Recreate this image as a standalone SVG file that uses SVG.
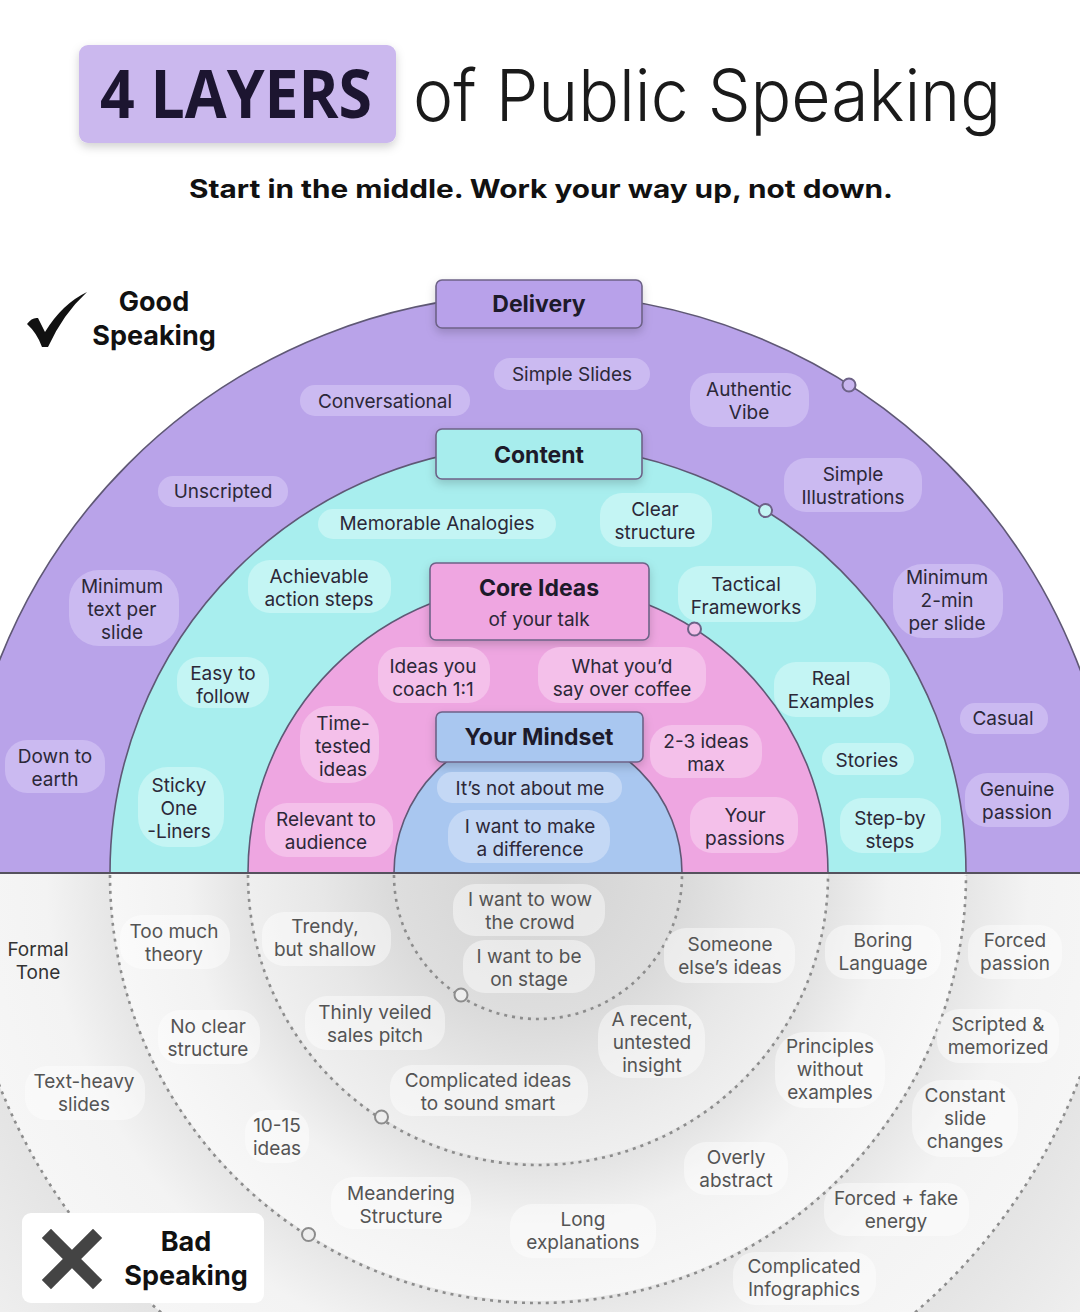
<svg xmlns="http://www.w3.org/2000/svg" width="1080" height="1312" viewBox="0 0 1080 1312">
<defs>
<style>
.t{font-family:Inter,"Noto Sans","Liberation Sans",sans-serif;font-size:19px;fill:#2c2838;text-anchor:middle}
.lo{fill:#545454}
.dk{fill:#333333}
.hd{font-weight:700;font-size:23px;fill:#1d1a2a}
.big{font-family:Inter,"Noto Sans","Liberation Sans",sans-serif;font-weight:700;font-size:27px;fill:#111;text-anchor:middle}
.pp{fill:#cbbaf1}
.pc{fill:#c4f5f4}
.pk{fill:#f4c0ea}
.pb{fill:#c4d8f5}
.pl{fill:#ffffff;fill-opacity:0.45}
.hbox{stroke:#6d6287;stroke-width:1.6}
.ring{stroke:#5f5875;stroke-width:1.6}
.dot{fill:none;stroke:#8c8c8c;stroke-width:2.6;stroke-dasharray:3 5}
.mk{stroke:#6d6287;stroke-width:2}
.mkl{fill:#ededed;stroke:#8c8c8c;stroke-width:2}
</style>
<filter id="sh" x="-20%" y="-20%" width="140%" height="160%">
<feDropShadow dx="0" dy="4" stdDeviation="5" flood-color="#000" flood-opacity="0.18"/>
</filter>
<radialGradient id="gPur" gradientUnits="userSpaceOnUse" cx="538" cy="873" r="579">
<stop offset="0.74" stop-color="#e6e6e6"/><stop offset="0.85" stop-color="#f3f3f3"/><stop offset="1" stop-color="#f6f6f6"/>
</radialGradient>
<radialGradient id="gCy" gradientUnits="userSpaceOnUse" cx="538" cy="873" r="428">
<stop offset="0.68" stop-color="#e3e3e3"/><stop offset="0.82" stop-color="#f2f2f2"/><stop offset="1" stop-color="#f7f7f7"/>
</radialGradient>
<radialGradient id="gPk" gradientUnits="userSpaceOnUse" cx="538" cy="873" r="290">
<stop offset="0.5" stop-color="#dadada"/><stop offset="0.75" stop-color="#e7e7e7"/><stop offset="1" stop-color="#efefef"/>
</radialGradient>
<radialGradient id="gBl" gradientUnits="userSpaceOnUse" cx="538" cy="873" r="144">
<stop offset="0" stop-color="#d2d2d2"/><stop offset="1" stop-color="#dedede"/>
</radialGradient>
<radialGradient id="gOut" gradientUnits="userSpaceOnUse" cx="538" cy="873" r="760">
<stop offset="0.76" stop-color="#e4e4e4"/><stop offset="1" stop-color="#f4f4f4"/>
</radialGradient>
</defs>
<rect width="1080" height="1312" fill="#ffffff"/>

<!-- Title -->
<g id="title">
<rect x="79" y="45" width="317" height="98" rx="9" fill="#cbb8ee" filter="url(#sh)"/>
<text x="236" y="118" font-family="'Open Sans',Lato,sans-serif" font-weight="700" font-size="66" fill="#1c1530" text-anchor="middle" textLength="272" lengthAdjust="spacingAndGlyphs">4 LAYERS</text>
<text x="413" y="121" font-family="Inter,'Noto Sans',sans-serif" font-weight="300" font-size="72" fill="#1a1a1a" textLength="588" lengthAdjust="spacingAndGlyphs">of Public Speaking</text>
<text x="189" y="198" font-family="Inter,'Noto Sans',sans-serif" font-weight="700" font-size="25" fill="#111" textLength="704" lengthAdjust="spacingAndGlyphs">Start in the middle. Work your way up, not down.</text>
</g>

<!-- Lower half background -->
<g id="lower-bg">
<rect x="0" y="873" width="1080" height="439" fill="url(#gOut)"/>
<path d="M -41,873 A 579 579 0 0 0 1117,873 Z" fill="url(#gPur)"/>
<path d="M 110,873 A 428 428 0 0 0 966,873 Z" fill="url(#gCy)"/>
<path d="M 248,873 A 290 290 0 0 0 828,873 Z" fill="url(#gPk)"/>
<path d="M 394,873 A 144 144 0 0 0 682,873 Z" fill="url(#gBl)"/>
</g>

<!-- Upper rings -->
<g id="rings">
<path class="ring" d="M -41,873 A 579 579 0 0 1 1117,873 Z" fill="#b9a3e9"/>
<path class="ring" d="M 110,873 A 428 428 0 0 1 966,873 Z" fill="#a8eeee"/>
<path class="ring" d="M 248,873 A 290 290 0 0 1 828,873 Z" fill="#eea6e1"/>
<path class="ring" d="M 394,873 A 144 144 0 0 1 682,873 Z" fill="#a9c7f0"/>
<line x1="0" y1="873" x2="1080" y2="873" stroke="#55525e" stroke-width="1.8"/>
</g>

<!-- Connectors: dotted arcs and ring markers -->
<g id="connectors">
<path class="dot" d="M -41,873 A 579 579 0 0 0 1117,873"/>
<path class="dot" d="M 110,875 A 428 428 0 0 0 966,875"/>
<path class="dot" d="M 248,875 A 290 290 0 0 0 828,875"/>
<path class="dot" d="M 394,875 A 144 144 0 0 0 682,875"/>
<circle class="mk" cx="849" cy="385" r="6.5" fill="#c9b6f0"/>
<circle class="mk" cx="765.5" cy="510.5" r="6.5" fill="#c4f5f4"/>
<circle class="mk" cx="694.5" cy="629" r="6.5" fill="#f4c0ea"/>
<circle class="mkl" cx="461" cy="995" r="6.5"/>
<circle class="mkl" cx="381.5" cy="1117" r="6.5"/>
<circle class="mkl" cx="308.5" cy="1234.5" r="6.5"/>
</g>

<!-- Good speaking -->
<g id="good">
<path d="M27,324 Q32,317 38,318 L45,332 Q62,304 87,292 Q63,314 48,347 L42,347 Q37,333 27,324 Z" fill="#111"/>
<text class="big" x="154" y="311">Good</text>
<text class="big" x="154" y="345">Speaking</text>
</g>

<!-- Bad speaking -->
<g id="bad">
<rect x="22" y="1213" width="242" height="90" rx="9" fill="#ffffff"/>
<path d="M51,1238 L93,1280 M93,1238 L51,1280" stroke="#444" stroke-width="13" stroke-linecap="square"/>
<text class="big" x="186" y="1251">Bad</text>
<text class="big" x="186" y="1285">Speaking</text>
</g>

<!-- Header boxes -->
<g id="delivery">
<rect class="hbox" x="436" y="280" width="206" height="48" rx="6" fill="#b8a1ea" filter="url(#sh)"/>
<text class="t hd" x="539" y="312">Delivery</text>
</g>
<g id="content">
<rect class="hbox" x="436" y="429" width="206" height="50" rx="6" fill="#a7eded" filter="url(#sh)"/>
<text class="t hd" x="539" y="463">Content</text>
</g>
<g id="core-ideas">
<rect class="hbox" x="430" y="563" width="219" height="77" rx="6" fill="#efa6e1" filter="url(#sh)"/>
<text class="t hd" x="539" y="596">Core Ideas</text>
<text class="t" x="539" y="626" font-size="23">of your talk</text>
</g>
<g id="mindset">
<rect class="hbox" x="436" y="712" width="207" height="50" rx="6" fill="#a9c7f0" filter="url(#sh)"/>
<text class="t hd" x="539" y="745">Your Mindset</text>
</g>

<!-- Delivery (purple) labels -->
<g id="simple-slides"><rect class="pp" x="494" y="358" width="156" height="32" rx="16"/><text class="t" x="572" y="381">Simple Slides</text></g>
<g id="conversational"><rect class="pp" x="300" y="385" width="170" height="31" rx="15"/><text class="t" x="385" y="408">Conversational</text></g>
<g id="authentic-vibe"><rect class="pp" x="690" y="373" width="119" height="54" rx="22"/><text class="t" x="749" y="396">Authentic</text><text class="t" x="749" y="419">Vibe</text></g>
<g id="unscripted"><rect class="pp" x="158" y="476" width="130" height="31" rx="15"/><text class="t" x="223" y="498">Unscripted</text></g>
<g id="simple-illustrations"><rect class="pp" x="784" y="458" width="138" height="54" rx="22"/><text class="t" x="853" y="481">Simple</text><text class="t" x="853" y="504">Illustrations</text></g>
<g id="minimum-text"><rect class="pp" x="69" y="570" width="110" height="76" rx="30"/><text class="t" x="122" y="593">Minimum</text><text class="t" x="122" y="616">text per</text><text class="t" x="122" y="639">slide</text></g>
<g id="minimum-2min"><rect class="pp" x="893" y="564" width="110" height="74" rx="30"/><text class="t" x="947" y="584">Minimum</text><text class="t" x="947" y="607">2-min</text><text class="t" x="947" y="630">per slide</text></g>
<g id="down-to-earth"><rect class="pp" x="5" y="740" width="100" height="53" rx="22"/><text class="t" x="55" y="763">Down to</text><text class="t" x="55" y="786">earth</text></g>
<g id="casual"><rect class="pp" x="960" y="703" width="88" height="31" rx="15"/><text class="t" x="1003" y="725">Casual</text></g>
<g id="genuine-passion"><rect class="pp" x="965" y="773" width="104" height="54" rx="22"/><text class="t" x="1017" y="796">Genuine</text><text class="t" x="1017" y="819">passion</text></g>

<!-- Content (cyan) labels -->
<g id="memorable-analogies"><rect class="pc" x="318" y="509" width="238" height="30" rx="15"/><text class="t" x="437" y="530">Memorable Analogies</text></g>
<g id="clear-structure"><rect class="pc" x="600" y="493" width="112" height="54" rx="22"/><text class="t" x="655" y="516">Clear</text><text class="t" x="655" y="539">structure</text></g>
<g id="achievable"><rect class="pc" x="248" y="560" width="143" height="53" rx="22"/><text class="t" x="319" y="583">Achievable</text><text class="t" x="319" y="606">action steps</text></g>
<g id="tactical"><rect class="pc" x="678" y="566" width="138" height="56" rx="22"/><text class="t" x="746" y="591">Tactical</text><text class="t" x="746" y="614">Frameworks</text></g>
<g id="easy-to-follow"><rect class="pc" x="177" y="657" width="92" height="51" rx="22"/><text class="t" x="223" y="680">Easy to</text><text class="t" x="223" y="703">follow</text></g>
<g id="real-examples"><rect class="pc" x="774" y="662" width="116" height="55" rx="22"/><text class="t" x="831" y="685">Real</text><text class="t" x="831" y="708">Examples</text></g>
<g id="sticky"><rect class="pc" x="138" y="767" width="86" height="80" rx="30"/><text class="t" x="179" y="792">Sticky</text><text class="t" x="179" y="815">One</text><text class="t" x="179" y="838">-Liners</text></g>
<g id="stories"><rect class="pc" x="822" y="743" width="92" height="32" rx="16"/><text class="t" x="867" y="767">Stories</text></g>
<g id="step-by-steps"><rect class="pc" x="840" y="798" width="101" height="55" rx="22"/><text class="t" x="890" y="825">Step-by</text><text class="t" x="890" y="848">steps</text></g>

<!-- Core ideas (pink) labels -->
<g id="ideas-coach"><rect class="pk" x="378" y="647" width="112" height="56" rx="22"/><text class="t" x="433" y="673">Ideas you</text><text class="t" x="433" y="696">coach 1:1</text></g>
<g id="over-coffee"><rect class="pk" x="538" y="647" width="168" height="56" rx="22"/><text class="t" x="622" y="673">What you’d</text><text class="t" x="622" y="696">say over coffee</text></g>
<g id="time-tested"><rect class="pk" x="300" y="706" width="79" height="77" rx="30"/><text class="t" x="343" y="730">Time-</text><text class="t" x="343" y="753">tested</text><text class="t" x="343" y="776">ideas</text></g>
<g id="two-three-ideas"><rect class="pk" x="650" y="725" width="112" height="53" rx="22"/><text class="t" x="706" y="748">2-3 ideas</text><text class="t" x="706" y="771">max</text></g>
<g id="relevant"><rect class="pk" x="265" y="803" width="128" height="54" rx="22"/><text class="t" x="326" y="826">Relevant to</text><text class="t" x="326" y="849">audience</text></g>
<g id="your-passions"><rect class="pk" x="690" y="797" width="108" height="56" rx="22"/><text class="t" x="745" y="822">Your</text><text class="t" x="745" y="845">passions</text></g>

<!-- Mindset (blue) labels -->
<g id="not-about-me"><rect class="pb" x="437" y="772" width="185" height="31" rx="15"/><text class="t" x="530" y="795">It’s not about me</text></g>
<g id="make-difference"><rect class="pb" x="448" y="810" width="162" height="53" rx="22"/><text class="t" x="530" y="833">I want to make</text><text class="t" x="530" y="856">a difference</text></g>

<!-- Bad speaking labels -->
<g id="formal-tone"><text class="t dk" x="38" y="956">Formal</text><text class="t dk" x="38" y="979">Tone</text></g>
<g id="too-much-theory"><rect class="pl" x="120" y="915" width="110" height="54" rx="22"/><text class="t lo" x="174" y="938">Too much</text><text class="t lo" x="174" y="961">theory</text></g>
<g id="trendy"><rect class="pl" x="262" y="912" width="129" height="54" rx="22"/><text class="t lo" x="325" y="933">Trendy,</text><text class="t lo" x="325" y="956">but shallow</text></g>
<g id="no-clear-structure"><rect class="pl" x="158" y="1010" width="102" height="54" rx="22"/><text class="t lo" x="208" y="1033">No clear</text><text class="t lo" x="208" y="1056">structure</text></g>
<g id="sales-pitch"><rect class="pl" x="305" y="996" width="140" height="54" rx="22"/><text class="t lo" x="375" y="1019">Thinly veiled</text><text class="t lo" x="375" y="1042">sales pitch</text></g>
<g id="text-heavy"><rect class="pl" x="25" y="1066" width="120" height="54" rx="22"/><text class="t lo" x="84" y="1088">Text-heavy</text><text class="t lo" x="84" y="1111">slides</text></g>
<g id="wow-crowd"><rect class="pl" x="453" y="884" width="152" height="52" rx="22"/><text class="t lo" x="530" y="906">I want to wow</text><text class="t lo" x="530" y="929">the crowd</text></g>
<g id="on-stage"><rect class="pl" x="463" y="940" width="132" height="53" rx="22"/><text class="t lo" x="529" y="963">I want to be</text><text class="t lo" x="529" y="986">on stage</text></g>
<g id="complicated-ideas"><rect class="pl" x="390" y="1065" width="198" height="51" rx="22"/><text class="t lo" x="488" y="1087">Complicated ideas</text><text class="t lo" x="488" y="1110">to sound smart</text></g>
<g id="recent-insight"><rect class="pl" x="598" y="1005" width="107" height="73" rx="30"/><text class="t lo" x="652" y="1026">A recent,</text><text class="t lo" x="652" y="1049">untested</text><text class="t lo" x="652" y="1072">insight</text></g>
<g id="someone-else"><rect class="pl" x="664" y="928" width="131" height="55" rx="22"/><text class="t lo" x="730" y="951">Someone</text><text class="t lo" x="730" y="974">else’s ideas</text></g>
<g id="boring-language"><rect class="pl" x="825" y="925" width="116" height="54" rx="22"/><text class="t lo" x="883" y="947">Boring</text><text class="t lo" x="883" y="970">Language</text></g>
<g id="forced-passion"><rect class="pl" x="968" y="925" width="94" height="54" rx="22"/><text class="t lo" x="1015" y="947">Forced</text><text class="t lo" x="1015" y="970">passion</text></g>
<g id="scripted"><rect class="pl" x="937" y="1009" width="122" height="54" rx="22"/><text class="t lo" x="998" y="1031">Scripted &amp;</text><text class="t lo" x="998" y="1054">memorized</text></g>
<g id="principles"><rect class="pl" x="775" y="1032" width="110" height="76" rx="30"/><text class="t lo" x="830" y="1053">Principles</text><text class="t lo" x="830" y="1076">without</text><text class="t lo" x="830" y="1099">examples</text></g>
<g id="constant-changes"><rect class="pl" x="912" y="1080" width="106" height="77" rx="30"/><text class="t lo" x="965" y="1102">Constant</text><text class="t lo" x="965" y="1125">slide</text><text class="t lo" x="965" y="1148">changes</text></g>
<g id="ten-fifteen"><rect class="pl" x="245" y="1110" width="64" height="53" rx="22"/><text class="t lo" x="277" y="1132">10-15</text><text class="t lo" x="277" y="1155">ideas</text></g>
<g id="meandering"><rect class="pl" x="331" y="1177" width="140" height="52" rx="22"/><text class="t lo" x="401" y="1200">Meandering</text><text class="t lo" x="401" y="1223">Structure</text></g>
<g id="overly-abstract"><rect class="pl" x="684" y="1142" width="104" height="53" rx="22"/><text class="t lo" x="736" y="1164">Overly</text><text class="t lo" x="736" y="1187">abstract</text></g>
<g id="long-explanations"><rect class="pl" x="510" y="1204" width="146" height="54" rx="22"/><text class="t lo" x="583" y="1226">Long</text><text class="t lo" x="583" y="1249">explanations</text></g>
<g id="fake-energy"><rect class="pl" x="824" y="1183" width="145" height="53" rx="22"/><text class="t lo" x="896" y="1205">Forced + fake</text><text class="t lo" x="896" y="1228">energy</text></g>
<g id="complicated-infographics"><rect class="pl" x="733" y="1252" width="143" height="53" rx="22"/><text class="t lo" x="804" y="1273">Complicated</text><text class="t lo" x="804" y="1296">Infographics</text></g>
</svg>
